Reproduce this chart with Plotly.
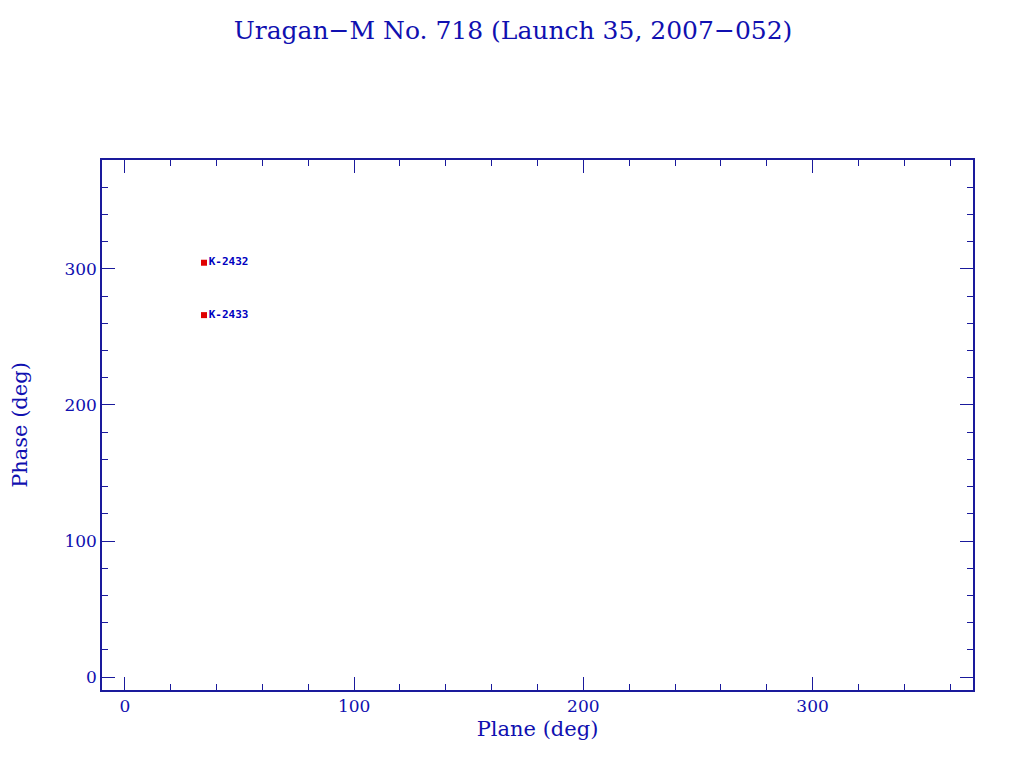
import plotly.graph_objects as go

names = ["K-2432", "K-2433"]
plane = [34.5, 34.5]
phase = [304.5, 266.0]

axis_color = "#1a1a9c"
text_color = "#1010b0"

fig = go.Figure()
fig.add_trace(go.Scatter(
    x=plane, y=phase, mode="markers+text",
    text=["<b>" + n + "</b>" for n in names], textposition="middle right",
    marker=dict(symbol="square", size=6, color="#e00000"),
    textfont=dict(family="DejaVu Sans Mono", size=11, color="#0000c0"),
    showlegend=False,
))

common = dict(
    showgrid=False, zeroline=False, showline=True, linecolor=axis_color, linewidth=1.5,
    mirror="ticks", ticks="inside", ticklen=13, tickcolor=axis_color, tickwidth=1.2,
    dtick=100, tick0=0, automargin=False,
    minor=dict(dtick=20, ticklen=6, ticks="inside", tickcolor=axis_color, tickwidth=1.2),
    tickfont=dict(family="DejaVu Serif", size=17, color=text_color),
)

fig.update_xaxes(range=[-10, 370], title=dict(text="Plane (deg)", font=dict(family="DejaVu Serif", size=21, color=text_color), standoff=6), **common)
fig.update_yaxes(range=[-9.5, 380], title=dict(text="Phase (deg)", font=dict(family="DejaVu Serif", size=21, color=text_color), standoff=36), **common)

fig.update_layout(
    width=1024, height=768,
    margin=dict(l=94, r=59, t=152, b=86),
    paper_bgcolor="white", plot_bgcolor="white",
    title=dict(text="Uragan\u2212M No. 718 (Launch 35, 2007\u2212052)", x=(513-8)/1024, xanchor="center", y=1-22/768, yanchor="middle",
               font=dict(family="DejaVu Serif", size=25, color=text_color)),
)

fig.write_html("out.html")
